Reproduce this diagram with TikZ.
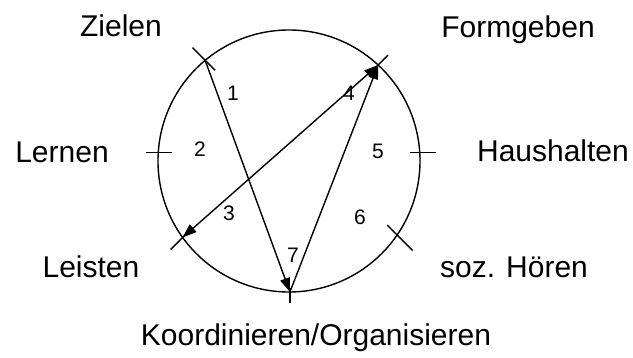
\documentclass[tikz,border=0pt]{standalone}
\usepackage{fontspec}
\setmainfont{Liberation Sans}
\usetikzlibrary{arrows.meta,calc}
\begin{document}
\begin{tikzpicture}[x=1pt,y=-1pt,line width=1.4pt,
  >={Triangle[length=14pt,width=10pt]},
  lab/.style={font=\fontsize{30}{34}\selectfont,inner sep=0pt,anchor=base},
  num/.style={font=\fontsize{21}{24}\selectfont,inner sep=0pt}]
\useasboundingbox (0,0) rectangle (633,358);
\coordinate (c) at (289,161);
\draw (c) circle[radius=131pt];
% points on the circle
\coordinate (Z) at ($(c)+(-129.8:131)$);
\coordinate (F) at ($(c)+(-47.1:131)$);
\coordinate (L) at ($(c)+(183.7:131)$);
\coordinate (H) at ($(c)+(-3.8:131)$);
\coordinate (S) at ($(c)+(144.3:131)$);
\coordinate (O) at ($(c)+(34.4:131)$);
\coordinate (K) at ($(c)+(89.6:131)$);
% ticks
\draw ($(Z)+(-135:-14)$) -- ($(Z)+(-135:18)$);
\draw ($(F)+(-45:-14)$) -- ($(F)+(-45:14)$);
\draw ($(L)+(180:-14)$) -- ($(L)+(180:12)$);
\draw ($(H)+(0:-10)$) -- ($(H)+(0:16)$);
\draw ($(S)+(135:-14)$) -- ($(S)+(135:17)$);
\draw ($(O)+(45:-14)$) -- ($(O)+(45:22)$);
\draw ($(K)+(90:-4)$) -- ($(K)+(90:11)$);
% connectors
\draw[->] (Z) -- (K);
\draw[->] (K) -- (F);
\draw[<->] (S) -- (F);
% labels
\node[lab] (tZ) at (121,37) {Zielen};
\node[lab] (tF) at (518,38) {Formgeben};
\node[lab] (tL) at (62,163) {Lernen};
\node[lab] (tH) at (553,162) {Haushalten};
\node[lab] (tS) at (91,278) {Leisten};
\node[lab] (tO) at (514,278) {soz. Hören};
\node[lab] (tK) at (316,346) {Koordinieren/Organisieren};
% numbers
\node[num] (n1) at (233,93) {1};
\node[num] (n2) at (200,149) {2};
\node[num] (n3) at (229,213) {3};
\node[num] (n4) at (349,93) {4};
\node[num] (n5) at (378,151) {5};
\node[num] (n6) at (360,217) {6};
\node[num] (n7) at (293,255) {7};
\end{tikzpicture}
\end{document}
